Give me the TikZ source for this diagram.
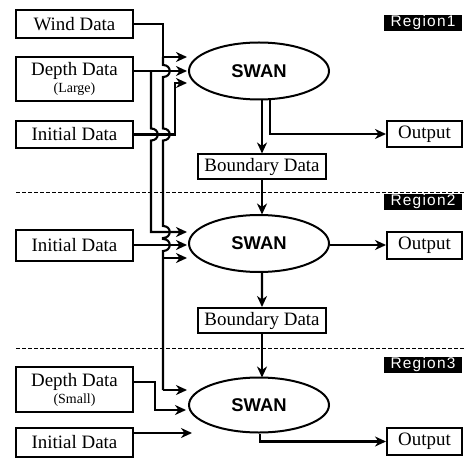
\documentclass[tikz,border=0pt]{standalone}
\usepackage{fontspec}
\setmainfont{Liberation Serif}
\newfontfamily\swanfont{Liberation Sans}
\newfontfamily\regfont[LetterSpace=8]{Liberation Sans}
\usetikzlibrary{arrows.meta,shapes.geometric}

\tikzset{
  box/.style={draw, line width=2bp, inner sep=0pt, align=center,
    font=\fontsize{19}{20}\selectfont},
  databox/.style={box, minimum width=117bp},
  outbox/.style={box, minimum width=75bp, minimum height=26bp},
  bdbox/.style={box, minimum width=128bp, minimum height=25bp},
  model/.style={draw, ellipse, line width=2bp, inner sep=0pt,
    minimum width=140bp, minimum height=57bp,
    font=\swanfont\bfseries\fontsize{18.5}{20}\selectfont},
  regionlabel/.style={fill=black, text=white, inner sep=0pt,
    minimum width=78bp, minimum height=16bp,
    font=\regfont\fontsize{15.5}{16}\selectfont},
  flow/.style={line width=2.1bp, -{Stealth[length=11bp, width=10bp, inset=3.5bp]}},
  wire/.style={line width=2.1bp},
  sep/.style={line width=1bp, dash pattern=on 4bp off 2bp},
  % a vertical wire bulging to the right over a crossing wire at (x,y)
  hop/.style 2 args={insert path={-- (#1,#2-6) .. controls (#1+9,#2-6) and (#1+9,#2+6) .. (#1,#2+6)}}
}

\begin{document}
\begin{tikzpicture}[x=1bp, y=-1bp]
\useasboundingbox (0,0) rectangle (466,459);

% region separators
\draw[sep] (16,193) -- (466,193);
\draw[sep] (16,348) -- (466,348);

% region labels
\node[regionlabel] (reg1) at (423,23) {Region1};
\node[regionlabel] (reg2) at (423,202) {Region2};
\node[regionlabel] (reg3) at (423,365) {Region3};

% input data
\node[databox, minimum height=28bp] (wind) at (74.5,24) {Wind Data};
\node[databox, minimum height=44bp] (depthL) at (74.5,79)
  {Depth Data\\[-3bp]{\fontsize{14}{15}\selectfont(Large)}};
\node[databox, minimum height=27bp] (init1) at (74.5,134.5) {Initial Data};
\node[databox, minimum height=31bp] (init2) at (74.5,245) {Initial Data};
\node[databox, minimum height=45bp] (depthS) at (74.5,389.5)
  {Depth Data\\[-3bp]{\fontsize{14}{15}\selectfont(Small)}};
\node[databox, minimum height=29bp] (init3) at (74.5,442.5) {Initial Data};

% models
\node[model] (swan1) at (259,71) {SWAN};
\node[model] (swan2) at (259,243.5) {SWAN};
\node[model, minimum height=55bp] (swan3) at (259,405) {SWAN};

% boundary data and output
\node[bdbox] (bd1) at (262,167) {Boundary Data};
\node[bdbox] (bd2) at (262,320.5) {Boundary Data};
\node[outbox] (out1) at (424.5,134) {Output};
\node[outbox, minimum height=27bp] (out2) at (424.5,245) {Output};
\node[outbox, minimum height=27bp] (out3) at (424.5,441.5) {Output};

% wind data feeds all three models
\coordinate (w1) at (163,57);
\coordinate (w2) at (163,258);
\coordinate (w3) at (163,390);
\draw[flow] (wind.east) -| (w1) -- (187,57);
\draw[wire] (w1) [hop={163}{71}] [hop={163}{134.5}] [hop={163}{232}] [hop={163}{245}] -- (w3);
\draw[flow] (w2) -- (187,258);
\draw[flow] (w3) -- (187,390);

% large depth data feeds models 1 and 2
\coordinate (d1) at (151,71);
\coordinate (d2) at (151,232);
\draw[flow] (wind.east |- d1) -- (187,71);
\draw[flow] (d1) [hop={151}{134.5}] -- (d2) -- (187,232);

% initial data
\coordinate (i1) at (175,134.5);
\draw[flow] (init1.east) -- (i1) -- (175,83) -- (187,83);
\draw[flow] (init2.east) -- (187,245);
\draw[flow] (init3.east |- 0,433) -- (192,433);

% small depth data
\coordinate (s1) at (155,382);
\draw[flow] (depthS.east |- s1) -- (s1) -- (155,410) -- (186,410);

% model chain
\draw[flow] ([xshift=3bp]swan1.south) -- ([xshift=3bp]swan1.south |- bd1.north);
\draw[flow] ([xshift=11bp]swan1.south) |- (out1.west);
\draw[flow] (bd1.south) -- (bd1.south |- 0,214.5);
\draw[flow] (swan2.east |- out2.west) -- (out2.west);
\draw[flow] ([xshift=3bp]swan2.south) -- (bd2.north);
\draw[flow] (bd2.south) -- (bd2.south |- 0,377.5);
\draw[flow] ([xshift=1bp]swan3.south) |- (out3.west);
\end{tikzpicture}
\end{document}
